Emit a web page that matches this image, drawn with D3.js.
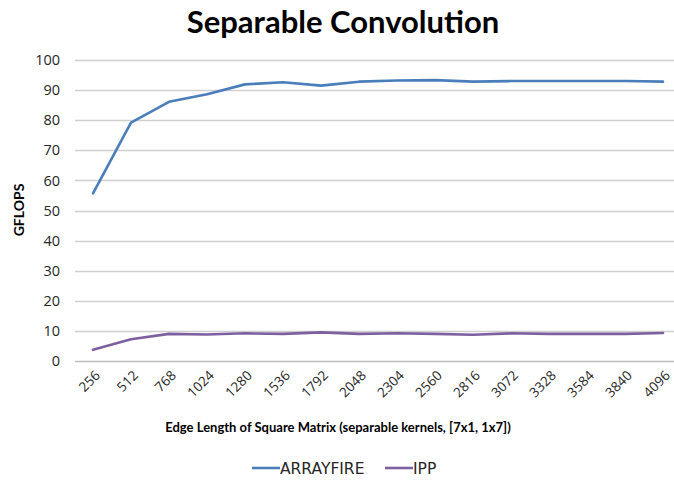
<!DOCTYPE html>
<html><head><meta charset="utf-8">
<script src="https://cdn.jsdelivr.net/npm/d3@7"></script>
<style>body{margin:0;background:#fff}svg{display:block}</style>
</head><body>
<script>
const categories = ["256","512","768","1024","1280","1536","1792","2048","2304","2560","2816","3072","3328","3584","3840","4096"];
const arrayfire = [55.7,79.2,86.1,88.6,91.9,92.6,91.5,92.8,93.2,93.3,92.8,93.0,93.0,93.0,93.0,92.8];
const ipp = [3.7,7.2,9.0,8.8,9.2,9.0,9.5,9.0,9.2,9.0,8.7,9.2,9.0,9.0,9.0,9.3];
const yTicks = [0,10,20,30,40,50,60,70,80,90,100];
const seriesNames = ["ARRAYFIRE","IPP"];
const colors = ["#4a7ebb","#7d60a0"];

const W=674,H=483;
const svg=d3.select("body").append("svg").attr("width",W).attr("height",H);
const font="'Open Sans', 'Liberation Sans', sans-serif";
const x=d3.scalePoint().domain(categories).range([93,663]);
const y=d3.scaleLinear().domain([0,100]).range([361,60]);

svg.append("text").attr("x",343).attr("y",33).attr("text-anchor","middle")
  .attr("font-family","Lato, 'Open Sans', sans-serif").attr("font-weight","bold").attr("font-size",31)
  .attr("fill","#000").text("Separable Convolution");

// grid
svg.append("g").selectAll("line").data(yTicks).join("line")
  .attr("x1",75).attr("x2",674).attr("y1",d=>Math.round(y(d))+0.5).attr("y2",d=>Math.round(y(d))+0.5)
  .attr("stroke",d=>d===0?"#bfbfbf":"#d0d0d0").attr("stroke-width",1.3);

// y axis labels
const ya=svg.append("g").attr("transform","translate(60,0)")
  .call(d3.axisLeft(y).tickValues(yTicks).tickSize(0).tickPadding(0));
ya.select(".domain").remove();
ya.selectAll("text").attr("font-family",font).attr("font-size",14.5).attr("fill","#262626");

svg.append("text").attr("transform","translate(24,210) rotate(-90)").attr("text-anchor","middle")
  .attr("font-family","Lato, sans-serif").attr("font-weight","bold").attr("font-size",14).attr("fill","#000").text("GFLOPS");

// x axis labels
const xa=svg.append("g").attr("transform","translate(0,366)")
  .call(d3.axisBottom(x).tickSize(0).tickPadding(0));
xa.select(".domain").remove();
xa.selectAll("text").attr("font-family",font).attr("font-size",13.5).attr("fill","#262626")
  .attr("text-anchor","end").attr("dy","0.35em")
  .attr("transform","translate(4,7) rotate(-45)");

svg.append("text").attr("x",338).attr("y",432).attr("text-anchor","middle")
  .attr("font-family","Lato, sans-serif").attr("font-weight","bold").attr("font-size",13)
  .attr("fill","#000")
  .text("Edge Length of Square Matrix (separable kernels, [7x1, 1x7])");

// lines
const line=d3.line().x((d,i)=>x(categories[i])).y(d=>y(d));
[arrayfire,ipp].forEach((s,k)=>{
  svg.append("path").datum(s).attr("d",line).attr("fill","none")
    .attr("stroke",colors[k]).attr("stroke-width",2.6).attr("stroke-linejoin","round").attr("stroke-linecap","round");
});

// legend
const leg=[{x:252,name:seriesNames[0],c:colors[0]},{x:385,name:seriesNames[1],c:colors[1]}];
leg.forEach(l=>{
  svg.append("line").attr("x1",l.x).attr("x2",l.x+28).attr("y1",468).attr("y2",468).attr("stroke",l.c).attr("stroke-width",2.6);
  svg.append("text").attr("x",l.x+28).attr("y",474).attr("font-family","'DejaVu Sans', sans-serif").attr("font-size",15.5).attr("fill","#262626").text(l.name);
});
</script>
</body></html>
